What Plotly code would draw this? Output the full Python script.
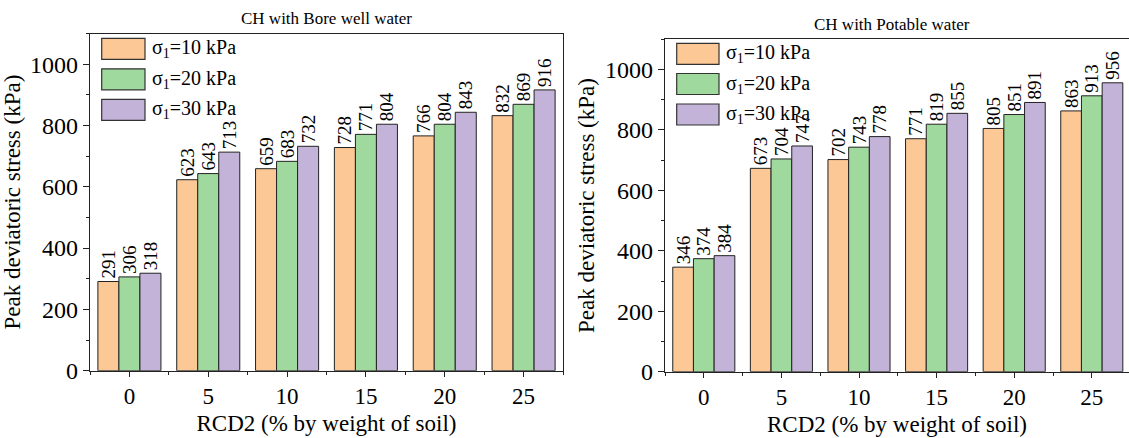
import plotly.graph_objects as go

# RCD2 content (% by weight of soil)
rcd2 = [0, 5, 10, 15, 20, 25]

# Peak deviatoric stress (kPa), CH with bore well water
bore_10 = [291, 623, 659, 728, 766, 832]
bore_20 = [306, 643, 683, 771, 804, 869]
bore_30 = [318, 713, 732, 804, 843, 916]

# Peak deviatoric stress (kPa), CH with potable water
pot_10 = [346, 673, 702, 771, 805, 863]
pot_20 = [374, 704, 743, 819, 851, 913]
pot_30 = [384, 747, 778, 855, 891, 956]

series_names = ["σ<sub>1</sub>=10 kPa", "σ<sub>1</sub>=20 kPa", "σ<sub>1</sub>=30 kPa"]
panel_titles = ["CH with Bore well water", "CH with Potable water"]
x_title = "RCD2 (% by weight of soil)"
y_title = "Peak deviatoric stress (kPa)"

colors = ["#FCC896", "#9FD99D", "#C3B3D8"]
FONT = '"Liberation Serif", "DejaVu Serif", serif'
W, H = 1129, 438


def px(x):
    return x / W


def py(y):
    return 1 - y / H


fig = go.Figure()

panels = [
    ("x", "y", [bore_10, bore_20, bore_30]),
    ("x2", "y2", [pot_10, pot_20, pot_30]),
]
for xa, ya, data in panels:
    for name, vals, col in zip(series_names, data, colors):
        fig.add_trace(go.Bar(
            x=rcd2, y=vals, name=name, xaxis=xa, yaxis=ya,
            marker=dict(color=col, line=dict(color="#222222", width=1)),
            text=[str(v) for v in vals], textposition="outside",
            textangle=-90, constraintext="none", cliponaxis=False,
            outsidetextfont=dict(family=FONT, size=19, color="black"),
            showlegend=False,
        ))

# plot-area geometry in pixels: (left, right, top, bottom)
left_box = (90, 563, 33.5, 370.7)
right_box = (665, 1129, 39.3, 371.7)

common_x = dict(
    automargin=False,
    showgrid=False, zeroline=False, showline=True, linecolor="#222222", linewidth=1.2,
    ticks="outside", ticklen=5, tickcolor="#222222", tick0=0, dtick=5,
    minor=dict(ticks="outside", ticklen=3, dtick=2.5, tickcolor="#222222"),
    tickfont=dict(family=FONT, size=23, color="black"),
    title=dict(text=x_title, font=dict(family=FONT, size=23, color="black"), standoff=6),
)
common_y = dict(
    automargin=False,
    showgrid=False, zeroline=False, showline=True, linecolor="#222222", linewidth=1.2,
    ticks="outside", ticklen=6, tickcolor="#222222", tick0=0, dtick=200,
    minor=dict(ticks="outside", ticklen=3, dtick=100, tickcolor="#222222"),
    tickfont=dict(family=FONT, size=24, color="black"),
    range=[0, 1100],
    title=dict(text=y_title, font=dict(family=FONT, size=23, color="black"), standoff=4),
)

fig.update_layout(
    template="none",
    width=W, height=H,
    margin=dict(l=0, r=0, t=0, b=0),
    paper_bgcolor="white", plot_bgcolor="white",
    barmode="group", bargap=0.2, bargroupgap=0,
    font=dict(family=FONT, color="black"),
    xaxis=dict(common_x, domain=[px(left_box[0]), px(left_box[1])], range=[-2.5, 27.5],
               mirror=True, anchor="y"),
    yaxis=dict(common_y, domain=[py(left_box[3]), py(left_box[2])], mirror=True, anchor="x"),
    xaxis2=dict(common_x, domain=[px(right_box[0]), 1.0],
                range=[-2.5, -2.5 + (right_box[1] - right_box[0]) / 15.52],
                mirror=True, anchor="y2"),
    yaxis2=dict(common_y, domain=[py(right_box[3]), py(right_box[2])], mirror=False, anchor="x2"),
)

# panel titles
for title, cx, cy in zip(panel_titles, [326.5, 892], [18.3, 25]):
    fig.add_annotation(text=title, x=px(cx), y=py(cy), xref="paper", yref="paper",
                       xanchor="center", yanchor="middle", showarrow=False,
                       font=dict(family=FONT, size=17, color="black"))

# legends drawn inside each panel: swatch boxes plus labels
legend_specs = [
    (101.7, 145, [38.3, 68.8, 99.3], 150),
    (676.7, 719, [43.3, 73.5, 104], 724),
]
for x0, x1, tops, tx in legend_specs:
    for name, col, top in zip(series_names, colors, tops):
        fig.add_shape(type="rect", xref="paper", yref="paper",
                      x0=px(x0), x1=px(x1), y0=py(top + 21), y1=py(top),
                      fillcolor=col, line=dict(color="#333333", width=1.2))
        fig.add_annotation(text=name, x=px(tx), y=py(top + 10.5), xref="paper", yref="paper",
                           xanchor="left", yanchor="middle", showarrow=False,
                           font=dict(family=FONT, size=20, color="black"))

fig.write_html("out.html")
